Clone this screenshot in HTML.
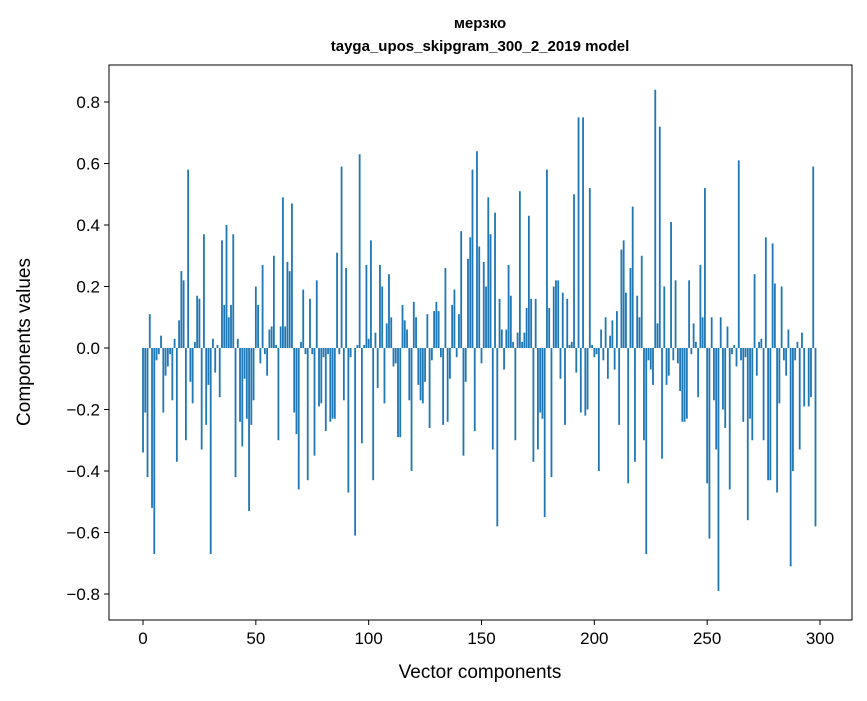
<!DOCTYPE html>
<html><head><meta charset="utf-8"><style>
body{margin:0;background:#fff;font-family:"Liberation Sans","DejaVu Sans",sans-serif;}
</style></head><body>
<svg id="chart" width="867" height="696" xmlns="http://www.w3.org/2000/svg" font-family="Liberation Sans, DejaVu Sans, sans-serif">
<text x="480" y="28" text-anchor="middle" font-size="15" font-weight="bold">мерзко</text>
<text x="480" y="51" text-anchor="middle" font-size="15" font-weight="bold">tayga_upos_skipgram_300_2_2019 model</text>
<g id="bars"></g>
<g id="axes"></g>
<text x="480" y="678" text-anchor="middle" font-size="19">Vector components</text>
<text transform="translate(30,342) rotate(-90)" text-anchor="middle" font-size="19">Components values</text>
</svg>
<script>
const values=[-0.34,-0.21,-0.42,0.11,-0.52,-0.67,-0.04,-0.02,0.04,-0.21,-0.09,-0.06,-0.02,-0.17,0.03,-0.37,0.09,0.25,0.22,-0.3,0.58,-0.11,-0.18,0.02,0.17,0.16,-0.33,0.37,-0.25,-0.12,-0.67,0.03,-0.08,0.01,-0.16,0.35,0.14,0.4,0.1,0.14,0.37,-0.42,0.03,-0.24,-0.32,-0.1,-0.23,-0.53,-0.25,-0.17,0.2,0.14,-0.05,0.27,-0.02,-0.09,0.06,0.07,0.3,0.01,-0.3,0.07,0.49,0.07,0.28,0.25,0.47,-0.21,-0.28,-0.46,0.02,0.19,-0.02,-0.43,0.16,-0.02,-0.35,0.22,-0.19,-0.18,-0.03,-0.27,-0.02,-0.24,-0.23,-0.23,0.31,-0.02,0.59,-0.17,0.26,-0.47,-0.03,0.0,-0.61,0.01,0.63,-0.31,0.01,0.27,0.03,0.35,-0.43,0.05,-0.13,0.27,0.2,-0.18,0.08,0.24,0.1,-0.06,-0.05,-0.29,-0.29,0.14,0.09,0.06,-0.17,-0.4,0.15,0.1,-0.12,-0.17,-0.18,-0.11,0.11,-0.26,-0.04,0.12,0.15,0.12,-0.03,-0.25,0.26,-0.24,-0.1,0.14,0.19,-0.03,0.11,0.38,-0.35,-0.11,0.29,0.36,0.58,-0.27,0.64,0.33,-0.05,0.28,0.2,0.49,0.37,-0.33,0.44,-0.58,0.16,0.06,-0.07,0.06,0.27,0.17,0.02,-0.3,0.05,0.51,0.02,0.05,0.13,0.43,0.16,-0.37,0.16,-0.33,-0.21,-0.23,-0.55,0.58,0.13,-0.42,0.2,0.22,0.22,-0.1,0.18,-0.25,0.16,0.01,0.02,0.5,-0.08,0.75,-0.21,0.75,-0.22,-0.2,0.52,0.01,-0.03,-0.02,-0.4,0.06,-0.04,0.1,-0.1,0.04,0.09,-0.07,0.12,-0.25,0.32,0.35,0.18,-0.44,0.26,0.46,-0.37,0.17,0.1,0.3,-0.3,-0.67,-0.04,-0.07,-0.12,0.84,0.08,0.72,-0.36,0.2,-0.12,-0.09,0.41,-0.04,0.22,-0.05,-0.14,-0.24,-0.24,-0.23,0.22,-0.02,0.08,0.02,-0.16,0.27,0.1,0.52,-0.44,-0.62,0.1,-0.17,-0.33,-0.79,0.1,-0.2,-0.26,0.07,-0.46,-0.02,0.01,-0.06,0.61,-0.04,-0.24,-0.03,-0.56,-0.23,-0.3,0.24,-0.09,0.02,0.03,-0.3,0.36,-0.43,-0.43,0.34,0.21,-0.47,-0.18,0.2,-0.04,-0.09,0.06,-0.71,-0.4,-0.04,0.02,-0.33,0.05,-0.19,0.0,-0.19,-0.16,0.59,-0.58];
const yTicks=[-0.8,-0.6,-0.4,-0.2,0.0,0.2,0.4,0.6,0.8];
const xTicks=[0,50,100,150,200,250,300];
const NS="http://www.w3.org/2000/svg";
const L=109,R=852,T=65,B=620;
function xs(v){return 143+v*(820-143)/300;}
function ys(v){return 348-v*307.5;}
const bars=document.getElementById('bars');
values.forEach((v,i)=>{
 const r=document.createElementNS(NS,'rect');
 const y0=ys(Math.max(v,0)),y1=ys(Math.min(v,0));
 r.setAttribute('x',xs(i-0.4));r.setAttribute('width',xs(0.8)-xs(0));
 r.setAttribute('y',y0);r.setAttribute('height',Math.max(y1-y0,0.01));
 r.setAttribute('fill','#1f77b4');
 
 
 bars.appendChild(r);
});
const ax=document.getElementById('axes');
const fr=document.createElementNS(NS,'rect');
fr.setAttribute('x',L);fr.setAttribute('y',T);fr.setAttribute('width',R-L);fr.setAttribute('height',B-T);
fr.setAttribute('fill','none');fr.setAttribute('stroke','#000');fr.setAttribute('stroke-width','1');


ax.appendChild(fr);
yTicks.forEach(t=>{
 const y=ys(t);
 const l=document.createElementNS(NS,'line');
 l.setAttribute('x1',L-5);l.setAttribute('x2',L);l.setAttribute('y1',y);l.setAttribute('y2',y);l.setAttribute('stroke','#000');
 
 
 ax.appendChild(l);
 const tx=document.createElementNS(NS,'text');
 tx.setAttribute('x',L-9);tx.setAttribute('y',y+6);tx.setAttribute('text-anchor','end');tx.setAttribute('font-size','17');
 tx.textContent=(t<0?'\u2212':'')+Math.abs(t).toFixed(1);
 
 
 ax.appendChild(tx);
});
xTicks.forEach(t=>{
 const x=xs(t);
 const l=document.createElementNS(NS,'line');
 l.setAttribute('x1',x);l.setAttribute('x2',x);l.setAttribute('y1',B);l.setAttribute('y2',B+5);l.setAttribute('stroke','#000');
 
 
 ax.appendChild(l);
 const tx=document.createElementNS(NS,'text');
 tx.setAttribute('x',x);tx.setAttribute('y',B+24);tx.setAttribute('text-anchor','middle');tx.setAttribute('font-size','17');
 tx.textContent=t;
 
 
 ax.appendChild(tx);
});
</script>
</body></html>
